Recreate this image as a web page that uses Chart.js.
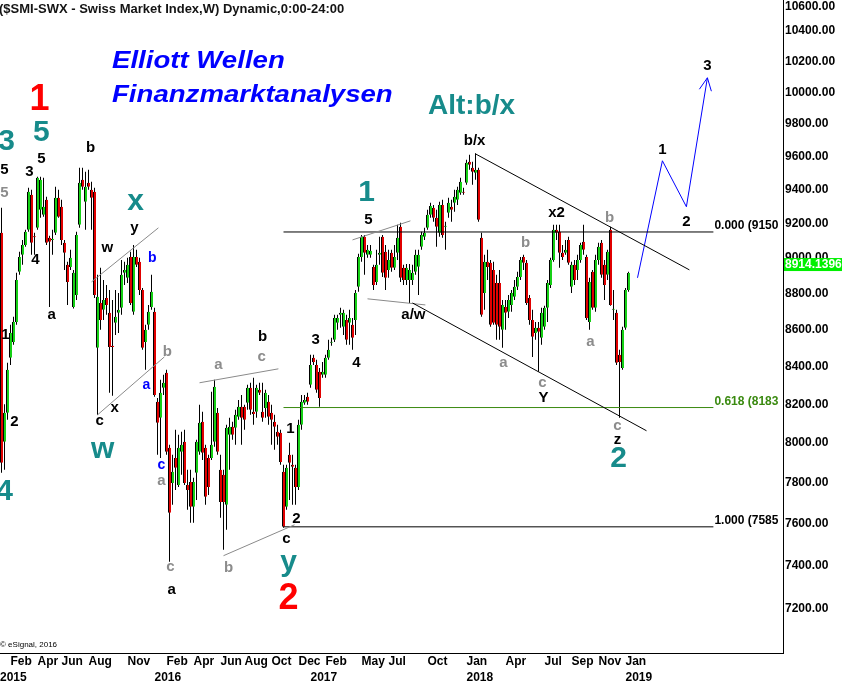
<!DOCTYPE html>
<html lang="de">
<head>
<meta charset="UTF-8">
<title>SMI Elliott Wellen</title>
<script src="https://cdn.jsdelivr.net/npm/chart.js"></script>
<style>
  body { margin: 0; background: #fff; }
  #wrap { width: 842px; height: 685px; position: relative; }
</style>
</head>
<body>
<div id="wrap"><canvas id="smiChart"></canvas></div>
<script>
// weekly candles, week 0 = 12.01.2015
var opens = [
  9145,8007,8156,8446,8532,8641,8921,9018,9075,9163, 9369,9122,9174,9280,9251,9339,9116,9104,9145,9351,
  9298,9087,8961,8949,8724,8791,9192,9459,9327,9441, 9399,9387,8500,8746,8708,8774,8691,8511,8636,8691,
  8719,8915,8887,9006,8697,9006,8978,8819,8532,8625, 8724,8697,8213,8130,8287,8366,7976,7800,7925,7790,
  7956,8007,7790,7805,7682,7850,7956,8109,7976,7925, 7925,8007,8156,7865,7840,7692,8043,8083,8078,8135,
  8187,8187,8208,8287,8161,8161,8276,8161,8181,8213, 8156,8109,8058,8053,7855,7682,7941,7890,7875,7780,
  8094,8208,8239,8302,8446,8408,8371,8355,8355,8446, 8527,8543,8636,8680,8614,8652,8636,8625,8652,8836,
  9006,9122,9018,9018,8949,8864,9018,9122,9035,8932, 9030,8944,9030,9180,8944,8875,8875,8875,8921,8950,
  9064,9122,9174,9251,9292,9233,9145,9309,9180,9262, 9298,9321,9339,9381,9387,9441,9568,9531,9501,9519,
  9116,8802,8978,8972,8932,8858,8858,8598,8724,8697, 8735,8780,8836,8892,9006,8972,8774,8652,8581,8609,
  8554,8614,8719,8847,8989,9163,9151,9030,9030,9104, 8836,8961,8932,8989,9093,9006,8641,8921,8719,8989,
  9087,8961,8904,9163,8708,8691,8462,8392,8609,8819
];
var highs = [
  9292,8200,8420,8625,8669,8915,9035,9104,9163,9411, 9399,9145,9477,9477,9471,9357,9128,9163,9417,9399,
  9339,9104,8978,9047,8932,9151,9531,9531,9507,9519, 9447,9411,8904,8944,8875,8847,8819,8763,8819,8802,
  8989,8978,9001,9035,9075,9047,9001,8830,8625,8735, 8904,8719,8233,8329,8355,8382,7991,7941,8068,8043,
  8058,8068,7865,7865,7825,8017,8197,8161,7991,7941, 8265,8329,8181,7941,7865,8094,8130,8109,8171,8223,
  8249,8197,8302,8313,8339,8302,8313,8313,8276,8249, 8197,8145,8094,8068,7890,7890,8002,7941,7890,8120,
  8249,8249,8260,8462,8462,8435,8392,8424,8462,8543, 8554,8680,8680,8719,8708,8680,8708,8663,8819,9024,
  9133,9133,9075,9075,8961,9047,9122,9133,9075,9047, 9047,9075,9192,9204,8961,8966,8966,8961,9047,9047,
  9151,9174,9280,9321,9309,9280,9327,9339,9209,9351, 9339,9399,9417,9471,9411,9580,9611,9568,9620,9531,
  9145,9018,9047,8989,8978,8904,8932,8763,8763,8791, 8819,8875,8921,9006,9018,8989,8791,8708,8641,8641,
  8719,8730,8875,9001,9192,9192,9192,9075,9104,9122, 8978,8989,9018,9087,9192,9018,8887,8932,9018,9087,
  9104,8989,9047,9180,8819,8708,8489,8614,8830,8921
];
var lows = [
  7850,7865,8120,8408,8516,8625,8904,8961,9064,9151, 9018,9018,9163,9233,9239,9075,8724,9018,9133,9233,
  9075,8932,8735,8932,8715,8763,9174,9399,9163,9399, 9163,8774,8145,8598,8652,8680,8260,8244,8570,8581,
  8680,8847,8858,8735,8680,8949,8791,8489,8382,8598, 8708,8239,7941,7925,8249,7941,7418,7692,7765,7780,
  7840,7790,7668,7605,7605,7716,7941,7915,7692,7740, 7915,7981,7941,7629,7475,7571,7865,8017,7991,8120,
  7991,8068,8171,8145,8094,8130,8249,8109,8130,8094, 7991,7966,7991,7890,7580,7668,7716,7692,7692,7765,
  8068,8197,8197,8287,8408,8260,8187,8339,8339,8435, 8511,8532,8598,8609,8570,8516,8516,8489,8570,8808,
  8978,8904,9001,9001,8819,8847,8961,8892,8819,8887, 8921,8932,8989,8864,8847,8847,8746,8847,8904,8791,
  9047,9104,9163,9233,9209,9064,9122,9116,9047,9233, 9209,9268,9309,9369,9369,9429,9519,9429,9459,9209,
  8669,8708,8875,8614,8625,8543,8543,8500,8598,8663, 8697,8763,8819,8875,8932,8735,8625,8451,8543,8371,
  8516,8598,8641,8830,8978,9104,8944,8989,9018,8961, 8802,8847,8875,8972,9018,8652,8598,8708,8697,8961,
  8887,8763,8875,8730,8652,8408,8130,8382,8598,8808
];
var closes = [
  7900,8156,8382,8581,8641,8875,9006,9075,9151,9387, 9087,9120,9471,9459,9298,9087,9093,9110,9351,9239,
  9104,9030,8864,9001,8915,9133,9441,9417,9417,9417, 9351,8791,8780,8652,8763,8735,8505,8505,8669,8708,
  8904,8932,8961,8746,9006,8961,8819,8500,8598,8697, 8808,8249,8104,8260,8313,7956,7653,7855,7875,7976,
  7991,7800,7765,7682,7805,8007,8104,7951,7731,7780, 7991,8292,7956,7706,7706,8078,8083,8043,8145,8187,
  8130,8120,8287,8171,8150,8287,8260,8130,8260,8135, 8120,8083,8032,7905,7585,7875,7900,7880,7780,8094,
  8213,8223,8213,8408,8424,8276,8233,8371,8446,8489, 8532,8663,8663,8691,8691,8543,8663,8554,8802,9006,
  9122,9030,9047,9041,8847,8961,9030,8915,8887,8989, 8944,9006,9116,8887,8875,8944,8932,8915,9018,9018,
  9133,9145,9251,9303,9233,9180,9309,9133,9186,9321, 9280,9357,9399,9447,9381,9562,9550,9507,9519,9221,
  8680,8978,8949,8625,8636,8625,8614,8735,8691,8763, 8802,8836,8892,8989,8972,8746,8652,8560,8609,8587,
  8691,8719,8858,8989,9163,9145,9030,9006,9047,8972, 8961,8875,8989,9075,9047,8663,8864,8719,8989,9064,
  8904,8847,9035,8735,8714,8419,8424,8598,8819,8914
];
var lastQuote = '8914.1396';

// axis ticks
var yTickValues = [7200, 7400, 7600, 7800, 8000, 8200, 8400, 8600, 8800, 9000,
                   9200, 9400, 9600, 9800, 10000, 10200, 10400, 10600];
var xTickWeeks = [-0.5, 3, 12, 20, 29, 42, 51, 55, 64, 73, 81, 90, 99, 103, 108, 120, 129, 142, 155, 168, 181, 190, 199, 208];
var xTickLabels = [['', '2015'], 'Feb', 'Apr', 'Jun', 'Aug', 'Nov', ['', '2016'], 'Feb', 'Apr', 'Jun', 'Aug', 'Oct', 'Dec',
                   ['', '2017'], 'Feb', 'May', 'Jul', 'Oct', ['Jan', '2018'], 'Apr', 'Jul', 'Sep', 'Nov', ['Jan', '2019']];

// fibonacci levels (from the wave-2 low, week 94)
var fibNames = ['0.000 (9150', '0.618 (8183', '1.000 (7585'];
var fibPrices = [9150, 8183, 7585];
var fibFrom = 94, fibTo = 237.3;

// trend channels: [week1, price1, week2, price2]
var channelBlack = [[158, 9616, 229.3, 8932], [137, 8746, 215, 8063]];
var channelGray = [[30, 8864, 52.3, 9174], [32, 8145, 54.3, 8451], [66, 8313, 92.3, 8387],
                   [74, 7447, 97.7, 7595], [117, 9104, 136.3, 9215], [122, 8769, 141.3, 8735]];

// projected path 1-2-3
var forecastWeeks = [212, 220.3, 228.3, 235.3];
var forecastPrices = [8887, 9574, 9298, 10093];

// wave counts: [text, week, price, kind]
var waveLabels = [
  ['3', 1.7, 9690, 'tealBig'], ['5', 13.3, 9745, 'tealBig'], ['1', 12.7, 9952, 'redBig'],
  ['5', 1, 9519, 'black'], ['5', 1, 9381, 'gray'], ['3', 9.3, 9507, 'black'], ['5', 13.3, 9586, 'black'],
  ['4', 11.3, 8989, 'black'], ['a', 16.7, 8680, 'black'], ['1', 1.3, 8570, 'black'], ['2', 4.3, 8109, 'black'],
  ['4', 1, 7755, 'tealBig'], ['b', 29.7, 9653, 'black'], ['x', 44.7, 9330, 'tealBig'], ['y', 44.3, 9175, 'black'],
  ['w', 35.3, 9058, 'black'], ['b', 50.3, 9001, 'blue'], ['b', 55.3, 8478, 'gray'], ['a', 48.3, 8303, 'blue'],
  ['x', 37.7, 8181, 'black'], ['c', 32.7, 8114, 'black'], ['w', 33.7, 7966, 'tealBig'], ['c', 53.3, 7890, 'blue'],
  ['a', 53.3, 7810, 'gray'], ['c', 56.3, 7394, 'gray'], ['a', 56.7, 7287, 'black'], ['a', 72.3, 8408, 'gray'],
  ['b', 87, 8560, 'black'], ['c', 86.7, 8451, 'gray'], ['b', 75.7, 7390, 'gray'], ['1', 96.3, 8073, 'black'],
  ['2', 98.3, 7624, 'black'], ['c', 95, 7527, 'black'], ['y', 95.7, 7414, 'tealBig'], ['2', 95.7, 7245, 'redBig'],
  ['3', 104.7, 8543, 'black'], ['4', 118.3, 8419, 'black'], ['5', 122.3, 9221, 'black'], ['1', 121.7, 9381, 'tealBig'],
  ['a/w', 137.3, 8680, 'black'], ['b/x', 157.7, 9696, 'black'], ['b', 174.7, 9087, 'gray'], ['x2', 185, 9262, 'black'],
  ['a', 167.3, 8419, 'gray'], ['c', 180.3, 8313, 'gray'], ['Y', 180.7, 8233, 'black'], ['a', 196.3, 8532, 'gray'],
  ['b', 202.7, 9233, 'gray'], ['c', 205.3, 8088, 'gray'], ['z', 205.3, 8017, 'black'], ['2', 205.7, 7920, 'tealBig'],
  ['1', 220.3, 9641, 'black'], ['2', 228.3, 9209, 'black'], ['3', 235.3, 10170, 'black'],
  ['Alt:b/x', 156.7, 9914, 'tealAlt']
];

var FONT = "'Liberation Sans', Arial, sans-serif";
var UP = '#16d016', DOWN = '#e00000';
var labelStyle = {
  black:   { font: 'bold 15px ' + FONT, color: '#000000' },
  gray:    { font: 'bold 15px ' + FONT, color: '#8c8c8c' },
  blue:    { font: 'bold 14px ' + FONT, color: '#0000ff' },
  tealBig: { font: 'bold 30px ' + FONT, color: '#178b8b' },
  tealAlt: { font: 'bold 28px ' + FONT, color: '#178b8b' },
  redBig:  { font: 'bold 36px ' + FONT, color: '#ff0000' }
};

function candleColor(ctx) {
  var i = ctx.dataIndex;
  return closes[i] >= opens[i] ? UP : DOWN;
}

function segment(pts, color) {
  return {
    type: 'line',
    data: [{ x: pts[0], y: pts[1] }, { x: pts[2], y: pts[3] }],
    borderColor: color, borderWidth: 1, pointRadius: 0, fill: false, order: 0
  };
}

var datasets = [];
datasets.push({
  label: 'wick',
  data: closes.map(function (c, i) { return { x: i, y: [lows[i], highs[i]] }; }),
  backgroundColor: '#000', barThickness: 1, grouped: false, inflateAmount: 0, order: 3
});
datasets.push({
  label: 'body',
  data: closes.map(function (c, i) { return { x: i, y: [opens[i], c] }; }),
  backgroundColor: candleColor, borderColor: '#000',
  borderWidth: { left: 1, right: 0, top: 0, bottom: 0 }, borderSkipped: false,
  barThickness: 3, minBarLength: 1, grouped: false, inflateAmount: 0, order: 2
});
channelBlack.forEach(function (s) { datasets.push(segment(s, '#000')); });
channelGray.forEach(function (s) { datasets.push(segment(s, '#8a8a8a')); });
fibPrices.forEach(function (p, i) {
  datasets.push(segment([fibFrom, p, fibTo, p], i === 1 ? '#3a8a10' : '#000'));
});
datasets.push({
  type: 'line',
  data: forecastWeeks.map(function (w, i) { return { x: w, y: forecastPrices[i] }; }),
  borderColor: '#0000ff', borderWidth: 1, pointRadius: 0, fill: false, order: 0
});

var overlay = {
  id: 'overlay',
  afterDatasetsDraw: function (chart) {
    var ctx = chart.ctx, x = chart.scales.x, y = chart.scales.y;
    ctx.save();
    // arrow head on projection
    var n = forecastWeeks.length;
    var x1 = x.getPixelForValue(forecastWeeks[n - 2]), y1 = y.getPixelForValue(forecastPrices[n - 2]);
    var x2 = x.getPixelForValue(forecastWeeks[n - 1]), y2 = y.getPixelForValue(forecastPrices[n - 1]);
    var ang = Math.atan2(y2 - y1, x2 - x1);
    ctx.strokeStyle = '#0000ff';
    ctx.lineWidth = 1;
    ctx.beginPath();
    ctx.moveTo(x2 - 14 * Math.cos(ang - 0.45), y2 - 14 * Math.sin(ang - 0.45));
    ctx.lineTo(x2, y2);
    ctx.lineTo(x2 - 14 * Math.cos(ang + 0.45), y2 - 14 * Math.sin(ang + 0.45));
    ctx.stroke();

    // fib texts
    ctx.font = 'bold 12px ' + FONT;
    ctx.textAlign = 'left';
    ctx.textBaseline = 'alphabetic';
    fibNames.forEach(function (t, i) {
      ctx.fillStyle = i === 1 ? '#3a8a10' : '#000';
      ctx.fillText(t, x.getPixelForValue(fibTo) + 1, y.getPixelForValue(fibPrices[i]) - 3);
    });

    // wave labels
    ctx.textAlign = 'center';
    ctx.textBaseline = 'middle';
    waveLabels.forEach(function (l) {
      var st = labelStyle[l[3]];
      ctx.font = st.font;
      ctx.fillStyle = st.color;
      ctx.fillText(l[0], x.getPixelForValue(l[1]), y.getPixelForValue(l[2]));
    });
    ctx.restore();
  },
  afterDraw: function (chart) {
    var ctx = chart.ctx, y = chart.scales.y, area = chart.chartArea;
    ctx.save();
    ctx.textAlign = 'left';
    ctx.textBaseline = 'middle';
    ctx.fillStyle = '#141414';
    ctx.font = 'bold 13px ' + FONT;
    ctx.fillText('($SMI-SWX - Swiss Market Index,W) Dynamic,0:00-24:00', -1, 9);
    ctx.fillStyle = '#000';
    ctx.font = 'bold 12px ' + FONT;
    ctx.fillText('10600.00', area.right + 2, 7);

    // blue headline, drawn a little wider like the original face
    ctx.fillStyle = '#0000ff';
    ctx.font = 'italic bold 23px ' + FONT;
    ctx.save();
    ctx.translate(112, 0);
    ctx.scale(1.2, 1);
    ctx.fillText('Elliott Wellen', 0, 62);
    ctx.fillText('Finanzmarktanalysen', 0, 96);
    ctx.restore();

    ctx.fillStyle = '#000';
    ctx.font = '8px ' + FONT;
    ctx.fillText('\u00a9 eSignal, 2016', 0, 645);

    // last price tag
    var py = y.getPixelForValue(closes[closes.length - 1]);
    ctx.fillStyle = '#00f000';
    ctx.fillRect(area.right + 1, py - 15, 60, 13);
    ctx.fillStyle = '#ffffff';
    ctx.font = 'bold 12px ' + FONT;
    ctx.fillText(lastQuote, area.right + 2, py - 8);
    ctx.restore();
  }
};

new Chart(document.getElementById('smiChart'), {
  type: 'bar',
  data: { datasets: datasets },
  options: {
    responsive: true,
    maintainAspectRatio: false,
    animation: false,
    layout: { padding: 0 },
    plugins: { legend: { display: false }, tooltip: { enabled: false } },
    scales: {
      x: {
        type: 'linear', min: -0.5, max: 260.5, bounds: 'data', offset: false,
        grid: { display: false, drawTicks: false, tickLength: 0, offset: false },
        border: { display: true, color: '#000', width: 1 },
        ticks: {
          autoSkip: false, maxRotation: 0, align: 'start', padding: 1, color: '#000',
          font: { family: FONT, size: 12, weight: 'bold', lineHeight: 1.333 },
          callback: function (v, i) { return xTickLabels[i]; }
        },
        afterBuildTicks: function (s) { s.ticks = xTickWeeks.map(function (v) { return { value: v }; }); },
        afterFit: function (s) { s.height = 32; s.paddingLeft = 0; s.paddingRight = 0; }
      },
      y: {
        type: 'logarithmic', position: 'right', min: 7000, max: 10605,
        grid: { display: false, drawTicks: false, tickLength: 0 },
        border: { display: true, color: '#000', width: 1 },
        ticks: {
          autoSkip: false, padding: 2, color: '#000',
          font: { family: FONT, size: 12, weight: 'bold' },
          callback: function (v) { return v === 10600 ? '' : Number(v).toFixed(2); }
        },
        afterBuildTicks: function (s) { s.ticks = yTickValues.map(function (v) { return { value: v }; }); },
        afterFit: function (s) { s.width = 59; s.paddingTop = 0; s.paddingBottom = 0; }
      }
    }
  },
  plugins: [overlay]
});
</script>
</body>
</html>
